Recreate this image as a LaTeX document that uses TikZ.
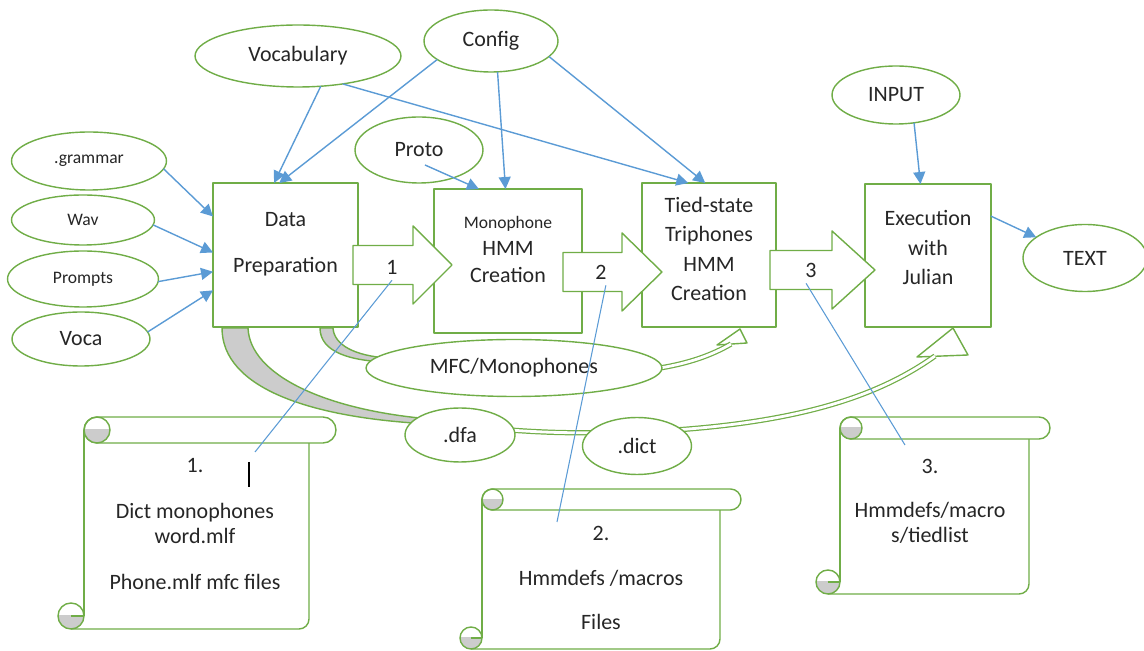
\documentclass[tikz,border=0pt]{standalone}
\usepackage{fontspec}
\setmainfont{Carlito}
\usetikzlibrary{arrows.meta,shapes.geometric}
\definecolor{leaf}{RGB}{112,173,71}
\definecolor{sky}{RGB}{91,155,213}
\definecolor{ink}{RGB}{38,38,38}

\begin{document}
\begin{tikzpicture}[x=0.02cm,y=-0.02cm,line join=round,
    every node/.style={text=ink,font=\fontsize{12.5}{15}\selectfont},
    oval/.style={ellipse,draw=leaf,line width=0.8pt,fill=white,inner sep=0pt,outer sep=0pt},
    stage/.style={rectangle,draw=leaf,line width=0.8pt,fill=white,inner sep=0pt,outer sep=0pt},
    small/.style={font=\fontsize{10}{12}\selectfont},
    flow/.style={draw=sky,line width=0.8pt,-{Triangle[length=0.24cm,width=0.24cm]}},
    callout/.style={draw=sky,line width=0.6pt},
    fat/.style={draw=leaf,line width=0.8pt,fill=white},
    band/.style={draw=leaf,line width=0.8pt,fill=gray!40},
    pipe/.style={draw=leaf,line width=0.7pt,double=white,double distance=1.6pt},
    rim/.style={draw=leaf,line width=0.8pt}]

  \useasboundingbox (0,0) rectangle (1144,651);

  % curved arrows (behind the ovals)
  \draw[band] (222,328) .. controls (222,388) and (310,418) .. (430,424) -- (430,419)
     .. controls (325,410) and (250,375) .. (248,328) -- cycle;
  \draw[fat] (917,357) -- (953,328) -- (968,355) -- cycle;
  \draw[pipe] (425,421) .. controls (520,433) and (560,434) .. (640,432)
     .. controls (800,425) and (880,395) .. (935,356);
  \draw[band] (320,328) .. controls (320,352) and (350,361) .. (388,362) -- (388,358)
     .. controls (355,356) and (334,345) .. (333,328) -- cycle;
  \draw[fat] (717,345) -- (740,329) -- (747,343) -- cycle;
  \draw[pipe] (385,360) -- (660,368) .. controls (690,363) and (712,355) .. (731,344);

  % scrolls
  \foreach \L/\T/\R/\h/\W/\B/\c in {84/417/336/26/309/629/13, 482/489/741/21/720/649/11, 840/417/1050/22/1029/594/12}{
    \pgfmathsetmacro\rh{\h*0.01}
    \pgfmathsetmacro\rc{\c*0.02}
    \fill[white] (\L,\T+\h/2) rectangle (\W,\B);
    \draw[rim] (\L,\T+\h/2) -- (\L,\B-\c);
    \draw[rim,rounded corners=0.2cm] (\W,\T+\h) -- (\W,\B) -- (\L-\c,\B);
    \begin{scope}
      \clip (\L-2*\c,\B-\c) rectangle (\L,\B+1);
      \fill[gray!40] (\L-\c,\B-\c) circle[radius=\rc cm];
    \end{scope}
    \draw[rim] (\L-\c,\B-\c) circle[radius=\rc cm];
    \draw[rim] (\L-\c,\B-\c) -- (\L,\B-\c);
    \draw[rim,fill=white,rounded corners=\rh cm] (\L,\T) rectangle (\R,\T+\h);
    \begin{scope}
      \clip (\L,\T+\h/2) rectangle (\L+\h,\T+\h);
      \fill[gray!40] (\L+\h/2,\T+\h/2) circle[radius=\rh cm];
    \end{scope}
    \draw[rim] (\L+\h/2,\T+\h/2) circle[radius=\rh cm];
  }
  \node[align=center,font=\fontsize{12.5}{14.2}\selectfont] (note1) at (195,524)
    {1.\\[11.8pt]Dict monophones\\word.mlf\\[11.8pt]Phone.mlf mfc files};
  \node[align=center,font=\fontsize{12.5}{14.2}\selectfont] (note2) at (601,578)
    {2.\\[11pt]Hmmdefs /macros\\[11pt]Files};
  \node[align=center,font=\fontsize{12.5}{14.2}\selectfont] (note3) at (930,501)
    {3.\\[11pt]Hmmdefs/macro\\s/tiedlist};
  \draw[black,line width=0.6pt] (249,462) -- (249,487);

  % ovals
  \node[oval,minimum width=4.12cm,minimum height=1.24cm] (vocab) at (298,56) {Vocabulary};
  \node[oval,minimum width=2.68cm,minimum height=1.24cm] (config) at (491,41) {Config};
  \node[oval,minimum width=2.56cm,minimum height=1.32cm] (proto) at (419,150) {Proto};
  \node[oval,minimum width=2.56cm,minimum height=1.16cm] (input) at (896,95) {INPUT};
  \node[oval,minimum width=2.48cm,minimum height=1.34cm] (textout) at (1085,258) {TEXT};
  \node[oval,small,minimum width=3.1cm,minimum height=1.16cm] (gram) at (89,161) {.grammar};
  \node[oval,small,minimum width=2.86cm,minimum height=1.0cm] (wav) at (83,220) {Wav};
  \node[oval,small,minimum width=3.02cm,minimum height=1.12cm] (prompts) at (83,279) {Prompts};
  \node[oval,minimum width=2.76cm,minimum height=1.08cm] (voca) at (81,339) {Voca};
  \node[oval,minimum width=5.92cm,minimum height=1.14cm] (mfc) at (514,368) {MFC/Monophones};
  \node[oval,minimum width=2.2cm,minimum height=1.08cm] (dfa) at (460,435) {.dfa};
  \node[oval,minimum width=2.18cm,minimum height=1.14cm] (dict) at (637,446) {.dict};

  % stages
  \node[stage,minimum width=2.9cm,minimum height=2.88cm] (prep) at (285.5,255) {};
  \node[stage,minimum width=2.96cm,minimum height=2.88cm] (mono) at (508,261) {};
  \node[stage,minimum width=2.68cm,minimum height=2.88cm] (tied) at (709,255) {};
  \node[stage,minimum width=2.52cm,minimum height=2.86cm] (exec) at (928,255.5) {};
  \node[align=center,font=\fontsize{12.5}{26}\selectfont] (preptxt) at ([yshift=0.22cm]prep.center) {Data\\Preparation};
  \node[align=center,font=\fontsize{12.5}{15.6}\selectfont] (monotxt) at ([yshift=0.23cm]mono.center)
    {{\fontsize{10}{15.6}\selectfont Monophone}\\HMM\\Creation};
  \node[align=center,font=\fontsize{12.5}{16.6}\selectfont] (tiedtxt) at ([yshift=0.12cm]tied.center)
    {Tied-state\\Triphones\\HMM\\Creation};
  \node[align=center,font=\fontsize{12.5}{16.7}\selectfont] (exectxt) at ([yshift=0.16cm]exec.center)
    {Execution\\with\\Julian};

  % block arrows between the stages
  \foreach \xa/\xb/\xc/\yc/\xn/\yn/\n in {353/413/452/265/392/267/1, 563/622/662/272/601/272/2, 770/832/875/270/811/270/3}{
    \draw[fat] (\xa,\yc-19.5) -- (\xb,\yc-19.5) -- (\xb,\yc-39) -- (\xc,\yc) -- (\xb,\yc+39)
      -- (\xb,\yc+19.5) -- (\xa,\yc+19.5) -- cycle;
    \node (num\n) at (\xn,\yn) {\n};
  }

  % inputs
  \draw[flow] (gram.-6) -- (prep.152);
  \draw[flow] (wav.-4) -- (prep.178);
  \draw[flow] (prompts.-2) -- (prep.-167);
  \draw[flow] (voca.6) -- (prep.-154);
  \draw[flow] (vocab.-53) -- (prep.99);
  \draw[flow] (config.-161) -- (prep.95);
  \draw[flow] (config.-78) -- (mono.92);
  \draw[flow] ([shift={(6,15)}]proto.center) -- (mono.112);
  \draw[flow] (vocab.-32) -- (tied.106);
  \draw[flow] (config.-15) -- (tied.93);
  \draw[flow] (input.-57) -- (exec.96);
  \draw[flow] (exec.32) -- (textout.157);

  % callouts to the scrolls
  \coordinate (s1) at (255,452);
  \coordinate (s2) at (557,522);
  \coordinate (s3) at (905,445);
  \draw[callout] (num1.south) -- (s1);
  \draw[callout] (num2.-70) -- (s2);
  \draw[callout] (num3.-110) -- (s3);
\end{tikzpicture}
\end{document}
